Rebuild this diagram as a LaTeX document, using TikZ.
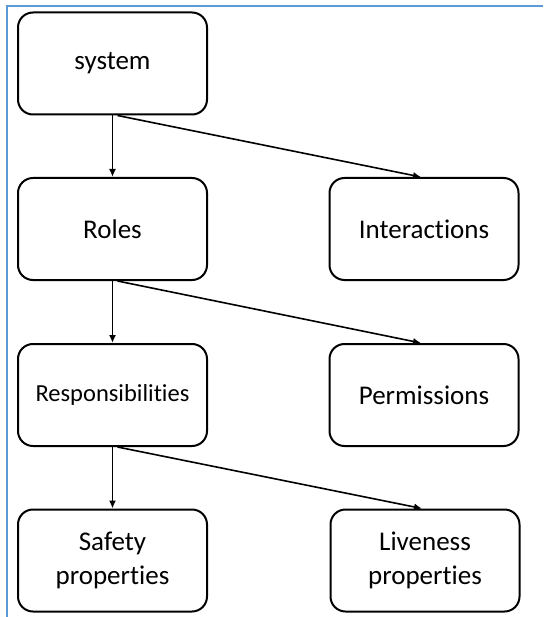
\documentclass[tikz,border=0pt]{standalone}
\usepackage{fontspec}
\setmainfont{Carlito}[Ligatures=NoCommon]
\usetikzlibrary{shapes,arrows,arrows.meta}
\definecolor{frameblue}{RGB}{91,155,213}
\tikzstyle{block} = [rectangle, draw, line width=2pt, text width=178pt,
    text centered, rounded corners=15pt, minimum width=189pt,
    minimum height=102pt, inner sep=4pt, font=\fontsize{27}{34}\selectfont]
\tikzstyle{arrow} = [draw, line width=1.6pt, -{Latex[length=8pt,width=7pt]}]

\begin{document}
\begin{tikzpicture}[x=1pt, y=-1pt]
    \useasboundingbox (0,0) rectangle (543,617);
    \draw[frameblue, line width=1.8pt] (543,6) -- (7,6) -- (7,617);
    \node[block] (sys) at (112.5,63.5) {system};
    \node[block] (roles) at (112.5,229) {Roles};
    \node[block] (inter) at (424,229) {Interactions};
    \node[block, font=\fontsize{24.5}{30}\selectfont] (resp) at (112.5,395) {Responsibilities};
    \node[block] (perm) at (424,395) {Permissions};
    \node[block] (safe) at (112.5,560.5) {Safety\\properties};
    \node[block] (live) at (425,560.5) {Liveness\\properties};
    \path[arrow] (sys.south) -- (roles.north);
    \path[arrow] ([xshift=5pt]sys.south) -- ([xshift=-3pt]inter.north);
    \path[arrow] (roles.south) -- (resp.north);
    \path[arrow] ([xshift=5pt]roles.south) -- ([xshift=-3pt]perm.north);
    \path[arrow] (resp.south) -- (safe.north);
    \path[arrow] ([xshift=5pt]resp.south) -- ([xshift=-3pt]live.north);
  \end{tikzpicture}
\end{document}
